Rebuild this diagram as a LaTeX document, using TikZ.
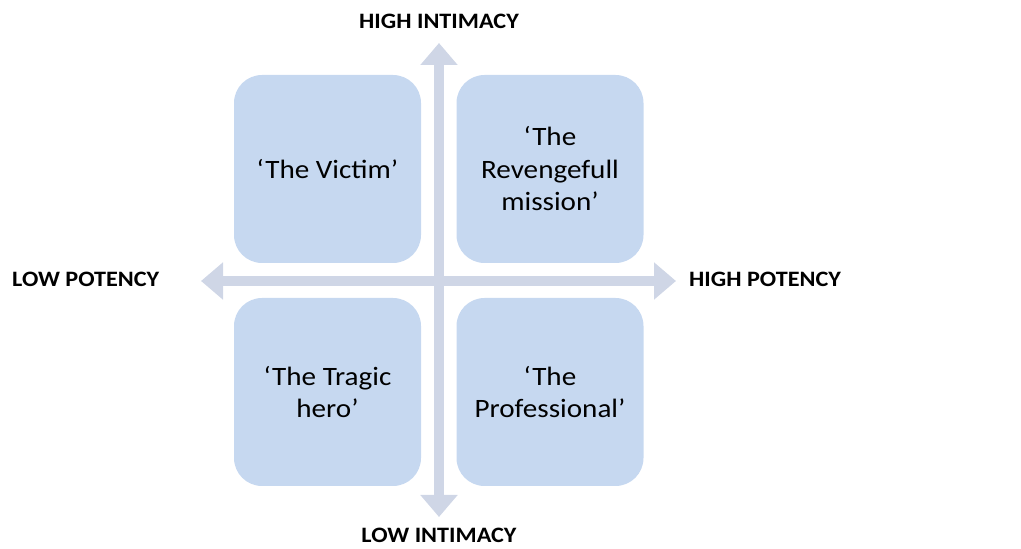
\documentclass[tikz,border=0pt]{standalone}
\usepackage{fontspec}
\setmainfont{Carlito}[FakeStretch=1.1]
\usetikzlibrary{positioning,arrows.meta}
\definecolor{quadblue}{HTML}{C6D8F0}
\definecolor{axisgrey}{HTML}{CFD6E6}

\begin{document}
\begin{tikzpicture}[x=1pt, y=1pt,
    quad/.style={fill=quadblue, rounded corners=28pt, minimum width=187pt, minimum height=188pt,
        inner sep=0pt, align=center, font=\fontsize{26.5}{32.5}\selectfont},
    axis/.style={draw=axisgrey, line width=10pt,
        {Triangle[width=36pt,length=22pt]}-{Triangle[width=36pt,length=22pt]}},
    axislabel/.style={inner sep=0pt, font=\bfseries\fontsize{22}{26}\selectfont}]

    \useasboundingbox (0,0) rectangle (1021,549);

    % axes
    \coordinate (left) at (201,268);
    \coordinate (right) at (676,268);
    \coordinate (top) at (439,506);
    \coordinate (bottom) at (439,32);
    \draw[axis] (left) -- (right);
    \draw[axis] (bottom) -- (top);

    % quadrants
    \node[quad] (victim) at (327.5,380) {`The Victim'};
    \node[quad] (mission) at (550,380) {`The\\Revengefull\\mission'};
    \node[quad] (tragic) at (327.5,157) {`The Tragic\\hero'};
    \node[quad] (professional) at (550,157) {`The\\Professional'};

    % labels
    \node[axislabel, anchor=base] (highint) at (439,520) {HIGH INTIMACY};
    \node[axislabel, anchor=base] (lowint) at (439,6) {LOW INTIMACY};
    \node[axislabel, anchor=base west] (lowpot) at (12,262) {LOW POTENCY};
    \node[axislabel, anchor=base west] (highpot) at (689,262) {HIGH POTENCY};
\end{tikzpicture}
\end{document}
